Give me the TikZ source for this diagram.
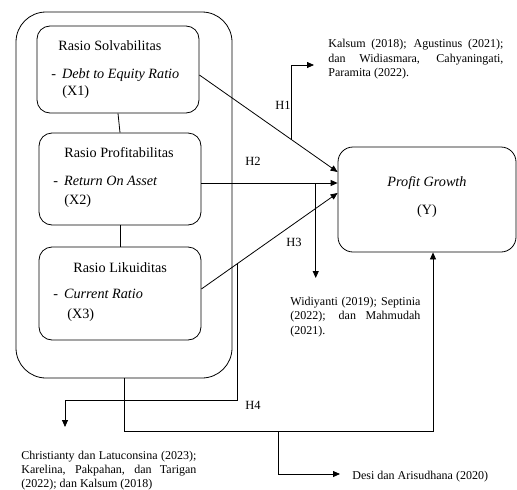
\documentclass[tikz,border=0pt]{standalone}
\usepackage{fontspec}
\setmainfont{Liberation Serif}
\usetikzlibrary{arrows.meta,calc}
\begin{document}
\begin{tikzpicture}[x=1pt,y=-1pt,
  line width=0.8pt,
  box/.style={draw, rounded corners=13pt, minimum width=162pt, inner sep=0pt},
  big/.style={font=\fontsize{14.2}{17}\selectfont, inner sep=0pt, anchor=base west},
  bigc/.style={font=\fontsize{14.2}{17}\selectfont, inner sep=0pt, anchor=base},
  small/.style={font=\fontsize{12}{14.5}\selectfont, inner sep=0pt, anchor=base west},
  hlab/.style={font=\fontsize{12.5}{15}\selectfont, inner sep=0pt},
  arr/.style={-{Triangle[length=7pt,width=6pt]}}
]
\useasboundingbox (0,0) rectangle (517,490);

% boxes
\node[draw, rounded corners=30pt, minimum width=216pt, minimum height=366pt, inner sep=0pt] (outer) at (124,195) {};
\node[box, minimum height=87pt] (X1) at (118,69.5) {};
\node[box, minimum height=92pt] (X2) at (120,179) {};
\node[box, minimum height=93pt] (X3) at (120,293.5) {};
\node[draw, rounded corners=15pt, minimum width=178pt, minimum height=105pt, inner sep=0pt] (Y) at (427,199.5) {};

% box texts
\node[big] (t1a) at (58,50) {Rasio Solvabilitas};
\node[big] (t1b) at (51,78) {-\hspace{6pt}\textit{Debt to Equity Ratio}};
\node[big] (t1c) at (62,95) {(X1)};
\node[big] (t2a) at (64,157) {Rasio Profitabilitas};
\node[big] (t2b) at (53,185) {-\hspace{6pt}\textit{Return On Asset}};
\node[big] (t2c) at (64,204) {(X2)};
\node[big] (t3a) at (73,272) {Rasio Likuiditas};
\node[big] (t3b) at (53,298) {-\hspace{6pt}\textit{Current Ratio}};
\node[big] (t3c) at (67,318) {(X3)};
\node[bigc] (ty1) at (427,186) {\textit{Profit Growth}};
\node[bigc] (ty2) at (427,214) {(Y)};

% citation texts
\node[small] (k1) at (328,47.5) {\makebox[175pt][s]{Kalsum (2018); Agustinus (2021);}};
\node[small] (k2) at (328,62) {\makebox[175pt][s]{dan Widiasmara, Cahyaningati,}};
\node[small] (k3) at (328,76.5) {Paramita (2022).};
\node[small] (w1) at (290,305) {\makebox[130pt][s]{Widiyanti (2019); Septinia}};
\node[small] (w2) at (290,319.5) {\makebox[130pt][s]{(2022); dan Mahmudah}};
\node[small] (w3) at (290,334) {(2021).};
\node[small] (c1) at (21,459) {\makebox[175pt][s]{Christianty dan Latuconsina (2023);}};
\node[small] (c2) at (21,473.5) {\makebox[175pt][s]{Karelina, Pakpahan, dan Tarigan}};
\node[small] (c3) at (21,487) {(2022); dan Kalsum (2018)};
\node[small] (d1) at (352,479) {Desi dan Arisudhana (2020)};

% hypothesis labels
\node[hlab] (H1) at (283,105) {H1};
\node[hlab] (H2) at (253,161) {H2};
\node[hlab] (H3) at (294,242) {H3};
\node[hlab] (H4) at (253,405) {H4};

% links between stacked boxes
\draw (X1.south) -- (X2.north);
\draw (X2.south) -- (X3.north);

% main arrows
\draw[arr] ($(X1.east)+(0,5.5)$) coordinate (s1) -- coordinate[pos=0.6667] (h1s) ($(Y.west)+(0,-27.5)$) coordinate (e1);
\draw[arr] ($(X2.east)+(0,4)$) coordinate (s2) -- coordinate[pos=0.8394] (h3s) ($(Y.west)+(0,-16.5)$) coordinate (e2);
\draw[arr] ($(X3.east)+(0,-4.5)$) coordinate (s3) -- coordinate[pos=0.2628] (h4s) ($(Y.west)+(0,-6.5)$) coordinate (e3);

% H1 branch
\coordinate (h1c) at (0,65);
\coordinate (h1e) at (314,65);
\draw[arr] (h1s) -- (h1s |- h1c) -- (h1e);

% H3 branch
\coordinate (h3e) at (0,278);
\draw[arr] (h3s) -- (h3s |- h3e);

% H4 branch
\coordinate (h4c) at (0,400);
\coordinate (h4e) at (65,427);
\draw[arr] (h4s) -- (h4s |- h4c) -| (h4e);

% bottom path to Y
\coordinate (bb) at (0,431);
\draw[arr] (outer.south) -- (outer.south |- bb) -| ($(Y.south)+(6,0)$);
\coordinate (db) at (278,431);
\coordinate (de) at (340,474);
\draw[arr] (db) |- (de);
\end{tikzpicture}
\end{document}
